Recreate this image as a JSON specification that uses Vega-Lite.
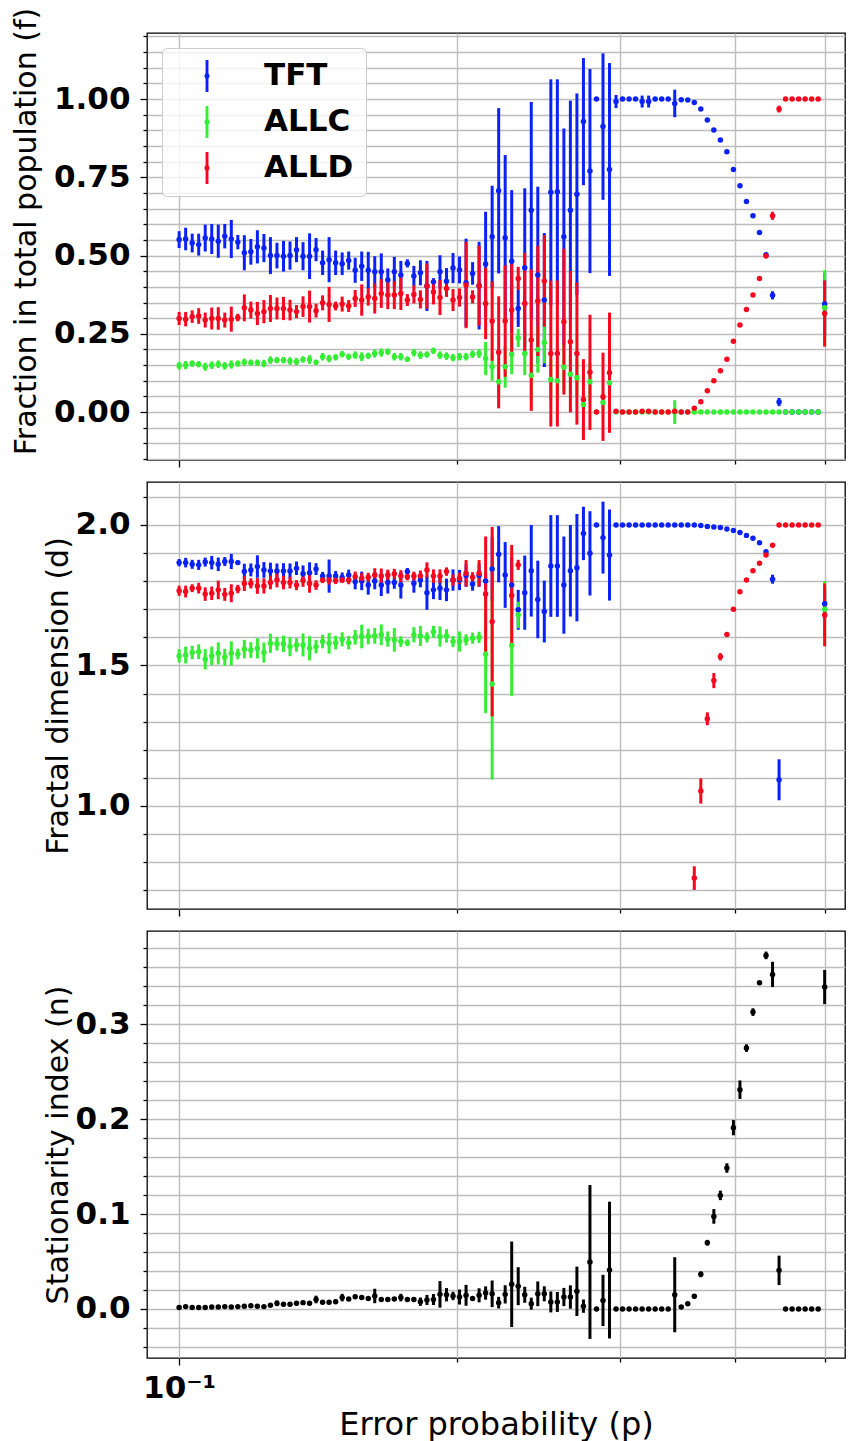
{
"$schema": "https://vega.github.io/schema/vega-lite/v6.json",
"background": "white",
"padding": {"left": 10, "top": 6, "right": 11, "bottom": 3},
"spacing": 12,
"resolve": {"scale": {"color": "independent", "stroke": "independent"}},
"config": {
  "view": {"stroke": "#000000", "strokeWidth": 1.3},
  "axis": {"domain": false, "grid": true, "gridColor": "#bdbdbd", "gridWidth": 1.4, "tickColor": "#000000", "tickWidth": 1.3, "labelFont": "DejaVu Sans", "labelFontWeight": "bold", "labelFontSize": 31, "labelColor": "#000000", "labelPadding": 10, "titleFont": "DejaVu Sans", "titleFontWeight": "normal", "titleFontSize": 30, "titleColor": "#000000"}
},
"datasets": {
"s": [
{"p":0.1,"s":"TFT","f":0.551,"fe":0.027,"d":1.866,"de":0.013},
{"p":0.10164,"s":"TFT","f":0.553,"fe":0.036,"d":1.866,"de":0.017},
{"p":0.10331,"s":"TFT","f":0.540,"fe":0.030,"d":1.860,"de":0.016},
{"p":0.105,"s":"TFT","f":0.535,"fe":0.035,"d":1.858,"de":0.018},
{"p":0.10672,"s":"TFT","f":0.556,"fe":0.043,"d":1.868,"de":0.016},
{"p":0.10847,"s":"TFT","f":0.553,"fe":0.048,"d":1.866,"de":0.024},
{"p":0.11025,"s":"TFT","f":0.546,"fe":0.053,"d":1.860,"de":0.024},
{"p":0.11205,"s":"TFT","f":0.562,"fe":0.039,"d":1.870,"de":0.016},
{"p":0.11389,"s":"TFT","f":0.553,"fe":0.061,"d":1.870,"de":0.027},
{"p":0.11576,"s":"TFT","f":0.543,"fe":0.023,"d":1.866,"de":0.008},
{"p":0.11765,"s":"TFT","f":0.509,"fe":0.056,"d":1.834,"de":0.028},
{"p":0.11958,"s":"TFT","f":0.512,"fe":0.041,"d":1.840,"de":0.023},
{"p":0.12154,"s":"TFT","f":0.528,"fe":0.053,"d":1.852,"de":0.040},
{"p":0.12354,"s":"TFT","f":0.524,"fe":0.045,"d":1.840,"de":0.028},
{"p":0.12556,"s":"TFT","f":0.500,"fe":0.059,"d":1.836,"de":0.030},
{"p":0.12762,"s":"TFT","f":0.500,"fe":0.041,"d":1.836,"de":0.027},
{"p":0.12971,"s":"TFT","f":0.498,"fe":0.049,"d":1.836,"de":0.028},
{"p":0.13184,"s":"TFT","f":0.500,"fe":0.045,"d":1.836,"de":0.027},
{"p":0.134,"s":"TFT","f":0.519,"fe":0.040,"d":1.846,"de":0.024},
{"p":0.13619,"s":"TFT","f":0.498,"fe":0.045,"d":1.826,"de":0.030},
{"p":0.13843,"s":"TFT","f":0.498,"fe":0.073,"d":1.830,"de":0.037},
{"p":0.14069,"s":"TFT","f":0.519,"fe":0.037,"d":1.843,"de":0.021},
{"p":0.143,"s":"TFT","f":0.477,"fe":0.039,"d":1.818,"de":0.015},
{"p":0.14534,"s":"TFT","f":0.487,"fe":0.072,"d":1.818,"de":0.059},
{"p":0.14773,"s":"TFT","f":0.477,"fe":0.039,"d":1.818,"de":0.018},
{"p":0.15015,"s":"TFT","f":0.474,"fe":0.036,"d":1.813,"de":0.018},
{"p":0.15261,"s":"TFT","f":0.484,"fe":0.029,"d":1.822,"de":0.019},
{"p":0.15511,"s":"TFT","f":0.453,"fe":0.040,"d":1.798,"de":0.027},
{"p":0.15765,"s":"TFT","f":0.466,"fe":0.047,"d":1.801,"de":0.033},
{"p":0.16024,"s":"TFT","f":0.453,"fe":0.059,"d":1.786,"de":0.034},
{"p":0.16286,"s":"TFT","f":0.448,"fe":0.050,"d":1.801,"de":0.030},
{"p":0.16553,"s":"TFT","f":0.448,"fe":0.059,"d":1.786,"de":0.039},
{"p":0.16825,"s":"TFT","f":0.422,"fe":0.037,"d":1.795,"de":0.039},
{"p":0.171,"s":"TFT","f":0.448,"fe":0.048,"d":1.795,"de":0.022},
{"p":0.17381,"s":"TFT","f":0.438,"fe":0.045,"d":1.786,"de":0.048},
{"p":0.17666,"s":"TFT","f":0.475,"fe":0.013,"d":1.834,"de":0.013},
{"p":0.17955,"s":"TFT","f":0.435,"fe":0.032,"d":1.793,"de":0.034},
{"p":0.18249,"s":"TFT","f":0.445,"fe":0.040,"d":1.804,"de":0.026},
{"p":0.18549,"s":"TFT","f":0.403,"fe":0.080,"d":1.759,"de":0.061},
{"p":0.18853,"s":"TFT","f":0.416,"fe":0.012,"d":1.769,"de":0.033},
{"p":0.19162,"s":"TFT","f":0.448,"fe":0.053,"d":1.775,"de":0.042},
{"p":0.19476,"s":"TFT","f":0.418,"fe":0.042,"d":1.769,"de":0.040},
{"p":0.19795,"s":"TFT","f":0.460,"fe":0.048,"d":1.804,"de":0.038},
{"p":0.20119,"s":"TFT","f":0.454,"fe":0.043,"d":1.804,"de":0.036},
{"p":0.20449,"s":"TFT","f":0.413,"fe":0.141,"d":1.820,"de":0.040},
{"p":0.20784,"s":"TFT","f":0.443,"fe":0.036,"d":1.790,"de":0.024},
{"p":0.21125,"s":"TFT","f":0.404,"fe":0.140,"d":1.820,"de":0.040},
{"p":0.21471,"s":"TFT","f":0.473,"fe":0.167,"d":1.801,"de":0.030},
{"p":0.21823,"s":"TFT","f":0.560,"fe":0.163,"d":1.843,"de":0.115},
{"p":0.22181,"s":"TFT","f":0.707,"fe":0.264,"d":1.896,"de":0.100},
{"p":0.22544,"s":"TFT","f":0.557,"fe":0.264,"d":1.822,"de":0.117},
{"p":0.22914,"s":"TFT","f":0.482,"fe":0.227,"d":1.786,"de":0.100},
{"p":0.23289,"s":"TFT","f":0.331,"fe":0.059,"d":1.698,"de":0.071},
{"p":0.23671,"s":"TFT","f":0.461,"fe":0.254,"d":1.759,"de":0.132},
{"p":0.24059,"s":"TFT","f":0.645,"fe":0.346,"d":1.837,"de":0.163},
{"p":0.24454,"s":"TFT","f":0.438,"fe":0.282,"d":1.735,"de":0.138},
{"p":0.24854,"s":"TFT","f":0.358,"fe":0.214,"d":1.692,"de":0.110},
{"p":0.25262,"s":"TFT","f":0.702,"fe":0.361,"d":1.854,"de":0.181},
{"p":0.25676,"s":"TFT","f":0.704,"fe":0.359,"d":1.854,"de":0.181},
{"p":0.26097,"s":"TFT","f":0.560,"fe":0.346,"d":1.786,"de":0.173},
{"p":0.26524,"s":"TFT","f":0.645,"fe":0.350,"d":1.837,"de":0.163},
{"p":0.26959,"s":"TFT","f":0.696,"fe":0.322,"d":1.848,"de":0.191},
{"p":0.27401,"s":"TFT","f":0.928,"fe":0.203,"d":1.970,"de":0.095},
{"p":0.2785,"s":"TFT","f":0.770,"fe":0.326,"d":1.899,"de":0.150},
{"p":0.28307,"s":"TFT","f":1.0,"fe":0,"d":2.0,"de":0},
{"p":0.28771,"s":"TFT","f":0.912,"fe":0.234,"d":1.955,"de":0.128},
{"p":0.29242,"s":"TFT","f":0.775,"fe":0.340,"d":1.893,"de":0.162},
{"p":0.29722,"s":"TFT","f":0.992,"fe":0.021,"d":2.0,"de":0},
{"p":0.30209,"s":"TFT","f":1.0,"fe":0,"d":2.0,"de":0},
{"p":0.30704,"s":"TFT","f":1.0,"fe":0,"d":2.0,"de":0},
{"p":0.31207,"s":"TFT","f":1.0,"fe":0,"d":2.0,"de":0},
{"p":0.31719,"s":"TFT","f":0.992,"fe":0.019,"d":2.0,"de":0},
{"p":0.32239,"s":"TFT","f":0.992,"fe":0.019,"d":2.0,"de":0},
{"p":0.32767,"s":"TFT","f":1.0,"fe":0,"d":2.0,"de":0},
{"p":0.33304,"s":"TFT","f":1.0,"fe":0,"d":2.0,"de":0},
{"p":0.3385,"s":"TFT","f":1.0,"fe":0,"d":2.0,"de":0},
{"p":0.34405,"s":"TFT","f":0.986,"fe":0.044,"d":2.0,"de":0},
{"p":0.34969,"s":"TFT","f":0.998,"fe":0,"d":2.0,"de":0},
{"p":0.35542,"s":"TFT","f":0.997,"fe":0,"d":2.0,"de":0},
{"p":0.36125,"s":"TFT","f":0.989,"fe":0,"d":2.0,"de":0},
{"p":0.36716,"s":"TFT","f":0.968,"fe":0,"d":1.998,"de":0},
{"p":0.37318,"s":"TFT","f":0.933,"fe":0,"d":1.995,"de":0},
{"p":0.3793,"s":"TFT","f":0.901,"fe":0,"d":1.993,"de":0},
{"p":0.38552,"s":"TFT","f":0.869,"fe":0,"d":1.991,"de":0},
{"p":0.39184,"s":"TFT","f":0.832,"fe":0,"d":1.986,"de":0},
{"p":0.39826,"s":"TFT","f":0.775,"fe":0,"d":1.980,"de":0},
{"p":0.40479,"s":"TFT","f":0.723,"fe":0,"d":1.973,"de":0},
{"p":0.41142,"s":"TFT","f":0.673,"fe":0,"d":1.963,"de":0},
{"p":0.41816,"s":"TFT","f":0.627,"fe":0,"d":1.953,"de":0},
{"p":0.42502,"s":"TFT","f":0.574,"fe":0,"d":1.937,"de":0},
{"p":0.43199,"s":"TFT","f":0.503,"fe":0,"d":1.905,"de":0},
{"p":0.43907,"s":"TFT","f":0.373,"fe":0.013,"d":1.807,"de":0.016},
{"p":0.44626,"s":"TFT","f":0.032,"fe":0.013,"d":1.093,"de":0.073},
{"p":0.45358,"s":"TFT","f":0,"fe":0},
{"p":0.46101,"s":"TFT","f":0,"fe":0},
{"p":0.46857,"s":"TFT","f":0,"fe":0},
{"p":0.47625,"s":"TFT","f":0,"fe":0},
{"p":0.48405,"s":"TFT","f":0,"fe":0},
{"p":0.49199,"s":"TFT","f":0,"fe":0},
{"p":0.5,"s":"TFT","f":0.345,"fe":0.1,"d":1.720,"de":0.05},
{"p":0.1,"s":"ALLC","f":0.148,"fe":0.012,"d":1.534,"de":0.024},
{"p":0.10164,"s":"ALLC","f":0.150,"fe":0.013,"d":1.537,"de":0.030},
{"p":0.10331,"s":"ALLC","f":0.155,"fe":0.010,"d":1.546,"de":0.024},
{"p":0.105,"s":"ALLC","f":0.153,"fe":0.010,"d":1.549,"de":0.026},
{"p":0.10672,"s":"ALLC","f":0.145,"fe":0.013,"d":1.522,"de":0.036},
{"p":0.10847,"s":"ALLC","f":0.150,"fe":0.012,"d":1.534,"de":0.033},
{"p":0.11025,"s":"ALLC","f":0.153,"fe":0.012,"d":1.543,"de":0.039},
{"p":0.11205,"s":"ALLC","f":0.148,"fe":0.012,"d":1.529,"de":0.030},
{"p":0.11389,"s":"ALLC","f":0.152,"fe":0.013,"d":1.543,"de":0.043},
{"p":0.11576,"s":"ALLC","f":0.155,"fe":0.010,"d":1.541,"de":0.019},
{"p":0.11765,"s":"ALLC","f":0.159,"fe":0.012,"d":1.558,"de":0.033},
{"p":0.11958,"s":"ALLC","f":0.158,"fe":0.010,"d":1.555,"de":0.028},
{"p":0.12154,"s":"ALLC","f":0.158,"fe":0.010,"d":1.561,"de":0.036},
{"p":0.12354,"s":"ALLC","f":0.155,"fe":0.012,"d":1.546,"de":0.036},
{"p":0.12556,"s":"ALLC","f":0.166,"fe":0.012,"d":1.579,"de":0.034},
{"p":0.12762,"s":"ALLC","f":0.166,"fe":0.010,"d":1.577,"de":0.024},
{"p":0.12971,"s":"ALLC","f":0.166,"fe":0.010,"d":1.577,"de":0.029},
{"p":0.13184,"s":"ALLC","f":0.163,"fe":0.012,"d":1.567,"de":0.034},
{"p":0.134,"s":"ALLC","f":0.161,"fe":0.012,"d":1.573,"de":0.024},
{"p":0.13619,"s":"ALLC","f":0.168,"fe":0.010,"d":1.573,"de":0.041},
{"p":0.13843,"s":"ALLC","f":0.168,"fe":0.014,"d":1.561,"de":0.043},
{"p":0.14069,"s":"ALLC","f":0.159,"fe":0.008,"d":1.567,"de":0.024},
{"p":0.143,"s":"ALLC","f":0.177,"fe":0.012,"d":1.585,"de":0.024},
{"p":0.14534,"s":"ALLC","f":0.171,"fe":0.012,"d":1.579,"de":0.037},
{"p":0.14773,"s":"ALLC","f":0.175,"fe":0.010,"d":1.581,"de":0.024},
{"p":0.15015,"s":"ALLC","f":0.185,"fe":0.010,"d":1.593,"de":0.025},
{"p":0.15261,"s":"ALLC","f":0.177,"fe":0.010,"d":1.581,"de":0.024},
{"p":0.15511,"s":"ALLC","f":0.182,"fe":0.012,"d":1.600,"de":0.026},
{"p":0.15765,"s":"ALLC","f":0.177,"fe":0.014,"d":1.603,"de":0.042},
{"p":0.16024,"s":"ALLC","f":0.180,"fe":0.010,"d":1.603,"de":0.028},
{"p":0.16286,"s":"ALLC","f":0.187,"fe":0.013,"d":1.605,"de":0.028},
{"p":0.16553,"s":"ALLC","f":0.190,"fe":0.013,"d":1.609,"de":0.037},
{"p":0.16825,"s":"ALLC","f":0.193,"fe":0.010,"d":1.594,"de":0.027},
{"p":0.171,"s":"ALLC","f":0.177,"fe":0.012,"d":1.591,"de":0.042},
{"p":0.17381,"s":"ALLC","f":0.177,"fe":0.012,"d":1.585,"de":0.019},
{"p":0.17666,"s":"ALLC","f":0.169,"fe":0.008,"d":1.581,"de":0.012},
{"p":0.17955,"s":"ALLC","f":0.190,"fe":0.012,"d":1.609,"de":0.027},
{"p":0.18249,"s":"ALLC","f":0.182,"fe":0.012,"d":1.605,"de":0.036},
{"p":0.18549,"s":"ALLC","f":0.184,"fe":0.010,"d":1.600,"de":0.018},
{"p":0.18853,"s":"ALLC","f":0.196,"fe":0.010,"d":1.620,"de":0.021},
{"p":0.19162,"s":"ALLC","f":0.182,"fe":0.012,"d":1.603,"de":0.036},
{"p":0.19476,"s":"ALLC","f":0.179,"fe":0.012,"d":1.605,"de":0.024},
{"p":0.19795,"s":"ALLC","f":0.174,"fe":0.012,"d":1.585,"de":0.020},
{"p":0.20119,"s":"ALLC","f":0.177,"fe":0.012,"d":1.585,"de":0.036},
{"p":0.20449,"s":"ALLC","f":0.177,"fe":0.012,"d":1.591,"de":0.020},
{"p":0.20784,"s":"ALLC","f":0.185,"fe":0.012,"d":1.597,"de":0.020},
{"p":0.21125,"s":"ALLC","f":0.187,"fe":0.014,"d":1.600,"de":0.020},
{"p":0.21471,"s":"ALLC","f":0.171,"fe":0.053,"d":1.540,"de":0.210},
{"p":0.21823,"s":"ALLC","f":0.145,"fe":0.045,"d":1.434,"de":0.340},
{"p":0.22181,"s":"ALLC","f":0.097,"fe":0.045},
{"p":0.22544,"s":"ALLC","f":0.145,"fe":0.067},
{"p":0.22914,"s":"ALLC","f":0.185,"fe":0.064,"d":1.571,"de":0.180},
{"p":0.23289,"s":"ALLC","f":0.237,"fe":0.029,"d":1.680,"de":0.047},
{"p":0.23671,"s":"ALLC","f":0.187,"fe":0.069},
{"p":0.24059,"s":"ALLC","f":0.118,"fe":0.080},
{"p":0.24454,"s":"ALLC","f":0.200,"fe":0.074},
{"p":0.24854,"s":"ALLC","f":0.222,"fe":0.066},
{"p":0.25262,"s":"ALLC","f":0.104,"fe":0.064},
{"p":0.25676,"s":"ALLC","f":0.100,"fe":0.060},
{"p":0.26097,"s":"ALLC","f":0.143,"fe":0.074},
{"p":0.26524,"s":"ALLC","f":0.121,"fe":0.060},
{"p":0.26959,"s":"ALLC","f":0.110,"fe":0.060},
{"p":0.27401,"s":"ALLC","f":0.024,"fe":0.019},
{"p":0.2785,"s":"ALLC","f":0.097,"fe":0.060},
{"p":0.28307,"s":"ALLC","f":0,"fe":0},
{"p":0.28771,"s":"ALLC","f":0.031,"fe":0.026},
{"p":0.29242,"s":"ALLC","f":0.094,"fe":0.037},
{"p":0.29722,"s":"ALLC","f":0,"fe":0},
{"p":0.30209,"s":"ALLC","f":0,"fe":0},
{"p":0.30704,"s":"ALLC","f":0,"fe":0},
{"p":0.31207,"s":"ALLC","f":0,"fe":0},
{"p":0.31719,"s":"ALLC","f":0,"fe":0},
{"p":0.32239,"s":"ALLC","f":0,"fe":0},
{"p":0.32767,"s":"ALLC","f":0,"fe":0},
{"p":0.33304,"s":"ALLC","f":0,"fe":0},
{"p":0.3385,"s":"ALLC","f":0,"fe":0},
{"p":0.34405,"s":"ALLC","f":0,"fe":0.038},
{"p":0.34969,"s":"ALLC","f":0,"fe":0},
{"p":0.35542,"s":"ALLC","f":0,"fe":0},
{"p":0.36125,"s":"ALLC","f":0,"fe":0},
{"p":0.36716,"s":"ALLC","f":0,"fe":0},
{"p":0.37318,"s":"ALLC","f":0,"fe":0},
{"p":0.3793,"s":"ALLC","f":0,"fe":0},
{"p":0.38552,"s":"ALLC","f":0,"fe":0},
{"p":0.39184,"s":"ALLC","f":0,"fe":0},
{"p":0.39826,"s":"ALLC","f":0,"fe":0},
{"p":0.40479,"s":"ALLC","f":0,"fe":0},
{"p":0.41142,"s":"ALLC","f":0,"fe":0},
{"p":0.41816,"s":"ALLC","f":0,"fe":0},
{"p":0.42502,"s":"ALLC","f":0,"fe":0},
{"p":0.43199,"s":"ALLC","f":0,"fe":0},
{"p":0.43907,"s":"ALLC","f":0,"fe":0},
{"p":0.44626,"s":"ALLC","f":0,"fe":0},
{"p":0.45358,"s":"ALLC","f":0,"fe":0},
{"p":0.46101,"s":"ALLC","f":0,"fe":0},
{"p":0.46857,"s":"ALLC","f":0,"fe":0},
{"p":0.47625,"s":"ALLC","f":0,"fe":0},
{"p":0.48405,"s":"ALLC","f":0,"fe":0},
{"p":0.49199,"s":"ALLC","f":0,"fe":0},
{"p":0.5,"s":"ALLC","f":0.333,"fe":0.12,"d":1.700,"de":0.10},
{"p":0.1,"s":"ALLD","f":0.299,"fe":0.021,"d":1.766,"de":0.018},
{"p":0.10164,"s":"ALLD","f":0.297,"fe":0.023,"d":1.763,"de":0.021},
{"p":0.10331,"s":"ALLD","f":0.305,"fe":0.020,"d":1.775,"de":0.014},
{"p":0.105,"s":"ALLD","f":0.307,"fe":0.025,"d":1.775,"de":0.019},
{"p":0.10672,"s":"ALLD","f":0.294,"fe":0.024,"d":1.754,"de":0.024},
{"p":0.10847,"s":"ALLD","f":0.299,"fe":0.035,"d":1.757,"de":0.024},
{"p":0.11025,"s":"ALLD","f":0.299,"fe":0.036,"d":1.769,"de":0.033},
{"p":0.11205,"s":"ALLD","f":0.294,"fe":0.024,"d":1.753,"de":0.023},
{"p":0.11389,"s":"ALLD","f":0.297,"fe":0.040,"d":1.757,"de":0.032},
{"p":0.11576,"s":"ALLD","f":0.302,"fe":0.012,"d":1.772,"de":0.015},
{"p":0.11765,"s":"ALLD","f":0.333,"fe":0.043,"d":1.792,"de":0.027},
{"p":0.11958,"s":"ALLD","f":0.326,"fe":0.027,"d":1.792,"de":0.018},
{"p":0.12154,"s":"ALLD","f":0.315,"fe":0.037,"d":1.783,"de":0.028},
{"p":0.12354,"s":"ALLD","f":0.321,"fe":0.037,"d":1.783,"de":0.027},
{"p":0.12556,"s":"ALLD","f":0.331,"fe":0.043,"d":1.795,"de":0.024},
{"p":0.12762,"s":"ALLD","f":0.331,"fe":0.035,"d":1.804,"de":0.026},
{"p":0.12971,"s":"ALLD","f":0.331,"fe":0.037,"d":1.795,"de":0.024},
{"p":0.13184,"s":"ALLD","f":0.326,"fe":0.033,"d":1.795,"de":0.021},
{"p":0.134,"s":"ALLD","f":0.321,"fe":0.021,"d":1.786,"de":0.018},
{"p":0.13619,"s":"ALLD","f":0.337,"fe":0.033,"d":1.802,"de":0.022},
{"p":0.13843,"s":"ALLD","f":0.337,"fe":0.051,"d":1.792,"de":0.033},
{"p":0.14069,"s":"ALLD","f":0.324,"fe":0.022,"d":1.786,"de":0.017},
{"p":0.143,"s":"ALLD","f":0.349,"fe":0.024,"d":1.804,"de":0.011},
{"p":0.14534,"s":"ALLD","f":0.344,"fe":0.056,"d":1.804,"de":0.016},
{"p":0.14773,"s":"ALLD","f":0.339,"fe":0.014,"d":1.802,"de":0.012},
{"p":0.15015,"s":"ALLD","f":0.345,"fe":0.024,"d":1.804,"de":0.010},
{"p":0.15261,"s":"ALLD","f":0.339,"fe":0.019,"d":1.804,"de":0.015},
{"p":0.15511,"s":"ALLD","f":0.363,"fe":0.027,"d":1.816,"de":0.018},
{"p":0.15765,"s":"ALLD","f":0.358,"fe":0.050,"d":1.810,"de":0.018},
{"p":0.16024,"s":"ALLD","f":0.368,"fe":0.028,"d":1.814,"de":0.016},
{"p":0.16286,"s":"ALLD","f":0.363,"fe":0.048,"d":1.822,"de":0.024},
{"p":0.16553,"s":"ALLD","f":0.379,"fe":0.046,"d":1.818,"de":0.027},
{"p":0.16825,"s":"ALLD","f":0.374,"fe":0.045,"d":1.822,"de":0.019},
{"p":0.171,"s":"ALLD","f":0.374,"fe":0.045,"d":1.826,"de":0.018},
{"p":0.17381,"s":"ALLD","f":0.379,"fe":0.053,"d":1.818,"de":0.021},
{"p":0.17666,"s":"ALLD","f":0.358,"fe":0.019,"d":1.816,"de":0.013},
{"p":0.17955,"s":"ALLD","f":0.376,"fe":0.029,"d":1.818,"de":0.016},
{"p":0.18249,"s":"ALLD","f":0.360,"fe":0.029,"d":1.818,"de":0.020},
{"p":0.18549,"s":"ALLD","f":0.403,"fe":0.072,"d":1.840,"de":0.027},
{"p":0.18853,"s":"ALLD","f":0.384,"fe":0.040,"d":1.818,"de":0.024},
{"p":0.19162,"s":"ALLD","f":0.366,"fe":0.056,"d":1.818,"de":0.024},
{"p":0.19476,"s":"ALLD","f":0.395,"fe":0.027,"d":1.834,"de":0.015},
{"p":0.19795,"s":"ALLD","f":0.358,"fe":0.035,"d":1.804,"de":0.020},
{"p":0.20119,"s":"ALLD","f":0.366,"fe":0.029,"d":1.810,"de":0.020},
{"p":0.20449,"s":"ALLD","f":0.406,"fe":0.138,"d":1.828,"de":0.047},
{"p":0.20784,"s":"ALLD","f":0.368,"fe":0.021,"d":1.814,"de":0.018},
{"p":0.21125,"s":"ALLD","f":0.404,"fe":0.128,"d":1.828,"de":0.047},
{"p":0.21471,"s":"ALLD","f":0.347,"fe":0.114,"d":1.754,"de":0.205},
{"p":0.21823,"s":"ALLD","f":0.291,"fe":0.127,"d":1.656,"de":0.337},
{"p":0.22181,"s":"ALLD","f":0.191,"fe":0.179},
{"p":0.22544,"s":"ALLD","f":0.291,"fe":0.178},
{"p":0.22914,"s":"ALLD","f":0.326,"fe":0.149,"d":1.749,"de":0.180},
{"p":0.23289,"s":"ALLD","f":0.427,"fe":0.037,"d":1.858,"de":0.018},
{"p":0.23671,"s":"ALLD","f":0.347,"fe":0.162},
{"p":0.24059,"s":"ALLD","f":0.230,"fe":0.226},
{"p":0.24454,"s":"ALLD","f":0.355,"fe":0.176},
{"p":0.24854,"s":"ALLD","f":0.419,"fe":0.146},
{"p":0.25262,"s":"ALLD","f":0.187,"fe":0.233},
{"p":0.25676,"s":"ALLD","f":0.187,"fe":0.233},
{"p":0.26097,"s":"ALLD","f":0.289,"fe":0.233},
{"p":0.26524,"s":"ALLD","f":0.225,"fe":0.226},
{"p":0.26959,"s":"ALLD","f":0.187,"fe":0.227},
{"p":0.27401,"s":"ALLD","f":0.040,"fe":0.129},
{"p":0.2785,"s":"ALLD","f":0.127,"fe":0.184},
{"p":0.28307,"s":"ALLD","f":0,"fe":0},
{"p":0.28771,"s":"ALLD","f":0.049,"fe":0.141},
{"p":0.29242,"s":"ALLD","f":0.126,"fe":0.192},
{"p":0.29722,"s":"ALLD","f":0.003,"fe":0},
{"p":0.30209,"s":"ALLD","f":0,"fe":0},
{"p":0.30704,"s":"ALLD","f":0,"fe":0},
{"p":0.31207,"s":"ALLD","f":0,"fe":0},
{"p":0.31719,"s":"ALLD","f":0.003,"fe":0.005},
{"p":0.32239,"s":"ALLD","f":0.003,"fe":0.005},
{"p":0.32767,"s":"ALLD","f":0,"fe":0},
{"p":0.33304,"s":"ALLD","f":0,"fe":0},
{"p":0.3385,"s":"ALLD","f":0,"fe":0},
{"p":0.34405,"s":"ALLD","f":0.003,"fe":0},
{"p":0.34969,"s":"ALLD","f":0,"fe":0},
{"p":0.35542,"s":"ALLD","f":0,"fe":0},
{"p":0.36125,"s":"ALLD","f":0.012,"fe":0,"d":0.743,"de":0.042},
{"p":0.36716,"s":"ALLD","f":0.033,"fe":0,"d":1.053,"de":0.045},
{"p":0.37318,"s":"ALLD","f":0.068,"fe":0,"d":1.310,"de":0.023},
{"p":0.3793,"s":"ALLD","f":0.100,"fe":0,"d":1.446,"de":0.027},
{"p":0.38552,"s":"ALLD","f":0.132,"fe":0,"d":1.531,"de":0.013},
{"p":0.39184,"s":"ALLD","f":0.169,"fe":0,"d":1.610,"de":0},
{"p":0.39826,"s":"ALLD","f":0.226,"fe":0,"d":1.700,"de":0},
{"p":0.40479,"s":"ALLD","f":0.278,"fe":0,"d":1.762,"de":0},
{"p":0.41142,"s":"ALLD","f":0.328,"fe":0,"d":1.804,"de":0},
{"p":0.41816,"s":"ALLD","f":0.374,"fe":0,"d":1.837,"de":0},
{"p":0.42502,"s":"ALLD","f":0.427,"fe":0,"d":1.864,"de":0},
{"p":0.43199,"s":"ALLD","f":0.499,"fe":0,"d":1.893,"de":0},
{"p":0.43907,"s":"ALLD","f":0.627,"fe":0.013,"d":1.928,"de":0},
{"p":0.44626,"s":"ALLD","f":0.968,"fe":0.011,"d":2.0,"de":0},
{"p":0.45358,"s":"ALLD","f":1.0,"fe":0,"d":2.0,"de":0},
{"p":0.46101,"s":"ALLD","f":1.0,"fe":0,"d":2.0,"de":0},
{"p":0.46857,"s":"ALLD","f":1.0,"fe":0,"d":2.0,"de":0},
{"p":0.47625,"s":"ALLD","f":1.0,"fe":0,"d":2.0,"de":0},
{"p":0.48405,"s":"ALLD","f":1.0,"fe":0,"d":2.0,"de":0},
{"p":0.49199,"s":"ALLD","f":1.0,"fe":0,"d":2.0,"de":0},
{"p":0.5,"s":"ALLD","f":0.315,"fe":0.106,"d":1.680,"de":0.112}
],
"n": [
{"p":0.1,"n":0.0015,"ne":0},
{"p":0.10164,"n":0.0025,"ne":0.001},
{"p":0.10331,"n":0.0015,"ne":0},
{"p":0.105,"n":0.0015,"ne":0},
{"p":0.10672,"n":0.0015,"ne":0},
{"p":0.10847,"n":0.002,"ne":0},
{"p":0.11025,"n":0.002,"ne":0},
{"p":0.11205,"n":0.0025,"ne":0.001},
{"p":0.11389,"n":0.002,"ne":0},
{"p":0.11576,"n":0.0025,"ne":0},
{"p":0.11765,"n":0.003,"ne":0.001},
{"p":0.11958,"n":0.0035,"ne":0},
{"p":0.12154,"n":0.003,"ne":0},
{"p":0.12354,"n":0.0025,"ne":0},
{"p":0.12556,"n":0.004,"ne":0.001},
{"p":0.12762,"n":0.006,"ne":0.003},
{"p":0.12971,"n":0.005,"ne":0.002},
{"p":0.13184,"n":0.005,"ne":0.002},
{"p":0.134,"n":0.006,"ne":0.002},
{"p":0.13619,"n":0.0067,"ne":0.002},
{"p":0.13843,"n":0.006,"ne":0.002},
{"p":0.14069,"n":0.010,"ne":0.004},
{"p":0.143,"n":0.007,"ne":0.002},
{"p":0.14534,"n":0.007,"ne":0.002},
{"p":0.14773,"n":0.0077,"ne":0.002},
{"p":0.15015,"n":0.012,"ne":0.004},
{"p":0.15261,"n":0.0105,"ne":0.002},
{"p":0.15511,"n":0.013,"ne":0.002},
{"p":0.15765,"n":0.012,"ne":0.002},
{"p":0.16024,"n":0.011,"ne":0.002},
{"p":0.16286,"n":0.0137,"ne":0.0076},
{"p":0.16553,"n":0.010,"ne":0.002},
{"p":0.16825,"n":0.010,"ne":0.002},
{"p":0.171,"n":0.0105,"ne":0.002},
{"p":0.17381,"n":0.012,"ne":0.004},
{"p":0.17666,"n":0.010,"ne":0.002},
{"p":0.17955,"n":0.010,"ne":0.002},
{"p":0.18249,"n":0.0077,"ne":0.0044},
{"p":0.18549,"n":0.0095,"ne":0.0053},
{"p":0.18853,"n":0.010,"ne":0.0058},
{"p":0.19162,"n":0.0154,"ne":0.014},
{"p":0.19476,"n":0.015,"ne":0.007},
{"p":0.19795,"n":0.0137,"ne":0.0044},
{"p":0.20119,"n":0.0126,"ne":0.0079},
{"p":0.20449,"n":0.0144,"ne":0.011},
{"p":0.20784,"n":0.011,"ne":0.002},
{"p":0.21125,"n":0.0144,"ne":0.0074},
{"p":0.21471,"n":0.0168,"ne":0.007},
{"p":0.21823,"n":0.016,"ne":0.014},
{"p":0.22181,"n":0.0067,"ne":0.0061},
{"p":0.22544,"n":0.0154,"ne":0.0096},
{"p":0.22914,"n":0.026,"ne":0.045},
{"p":0.23289,"n":0.024,"ne":0.020},
{"p":0.23671,"n":0.015,"ne":0.0084},
{"p":0.24059,"n":0.0056,"ne":0.0063},
{"p":0.24454,"n":0.016,"ne":0.013},
{"p":0.24854,"n":0.016,"ne":0.0079},
{"p":0.25262,"n":0.0074,"ne":0.011},
{"p":0.25676,"n":0.0074,"ne":0.0105},
{"p":0.26097,"n":0.0126,"ne":0.0096},
{"p":0.26524,"n":0.0126,"ne":0.0123},
{"p":0.26959,"n":0.0186,"ne":0.026},
{"p":0.27401,"n":0.003,"ne":0.007},
{"p":0.2785,"n":0.0495,"ne":0.081},
{"p":0.28307,"n":0,"ne":0},
{"p":0.28771,"n":0.009,"ne":0.027},
{"p":0.29242,"n":0.041,"ne":0.072},
{"p":0.29722,"n":0,"ne":0},
{"p":0.30209,"n":0,"ne":0},
{"p":0.30704,"n":0,"ne":0},
{"p":0.31207,"n":0,"ne":0},
{"p":0.31719,"n":0,"ne":0},
{"p":0.32239,"n":0,"ne":0},
{"p":0.32767,"n":0,"ne":0},
{"p":0.33304,"n":0,"ne":0},
{"p":0.3385,"n":0,"ne":0},
{"p":0.34405,"n":0.015,"ne":0.0395},
{"p":0.34969,"n":0.002,"ne":0},
{"p":0.35542,"n":0.0056,"ne":0},
{"p":0.36125,"n":0.0133,"ne":0.002},
{"p":0.36716,"n":0.0365,"ne":0.003},
{"p":0.37318,"n":0.0698,"ne":0.003},
{"p":0.3793,"n":0.0975,"ne":0.0077},
{"p":0.38552,"n":0.1196,"ne":0.005},
{"p":0.39184,"n":0.1484,"ne":0.005},
{"p":0.39826,"n":0.1909,"ne":0.008},
{"p":0.40479,"n":0.2309,"ne":0.0097},
{"p":0.41142,"n":0.2747,"ne":0.004},
{"p":0.41816,"n":0.3126,"ne":0.004},
{"p":0.42502,"n":0.3435,"ne":0.002},
{"p":0.43199,"n":0.3723,"ne":0.004},
{"p":0.43907,"n":0.3523,"ne":0.0133},
{"p":0.44626,"n":0.0407,"ne":0.0155},
{"p":0.45358,"n":0,"ne":0},
{"p":0.46101,"n":0,"ne":0},
{"p":0.46857,"n":0,"ne":0},
{"p":0.47625,"n":0,"ne":0},
{"p":0.48405,"n":0,"ne":0},
{"p":0.49199,"n":0,"ne":0},
{"p":0.5,"n":0.339,"ne":0.018}
]
},
"vconcat": [
{
  "width": 698, "height": 427,
  "data": {"name": "s"},
  "encoding": {
    "x": {"field": "p", "type": "quantitative", "scale": {"type": "log", "domain": [0.0923, 0.526], "nice": false},
          "axis": {"values": [0.1, 0.2, 0.3, 0.4, 0.5], "labels": false, "title": null, "tickSize": {"condition": {"test": "datum.value == 0.1", "value": 7}, "value": 4}}},
    "y": {"field": "f", "type": "quantitative", "scale": {"domain": [-0.153, 1.211], "nice": false, "zero": false},
          "axis": {"title": "Fraction in total population (f)", "titlePadding": 12, "titleY": 198,
                   "values": [-0.15,-0.1,-0.05,0,0.05,0.1,0.15,0.2,0.25,0.3,0.35,0.4,0.45,0.5,0.55,0.6,0.65,0.7,0.75,0.8,0.85,0.9,0.95,1,1.05,1.1,1.15,1.2],
                   "labelExpr": "abs(datum.value*4 - round(datum.value*4)) < 1e-6 ? format(datum.value, '.2f') : ''",
                   "tickSize": {"condition": {"test": "abs(datum.value*4 - round(datum.value*4)) < 1e-6", "value": 7}, "value": 4}}}
  },
  "layer": [
    {"mark": {"type": "errorbar", "thickness": 3},
     "encoding": {"yError": {"field": "fe"},
                  "stroke": {"field": "s", "type": "nominal", "scale": {"domain": ["ALLD", "ALLC", "TFT"], "range": ["#f8061e", "#33ee33", "#0a22f8"]}, "legend": null}}},
    {"mark": {"type": "point", "filled": true, "size": 30, "opacity": 1},
     "encoding": {"color": {"field": "s", "type": "nominal", "scale": {"domain": ["TFT", "ALLC", "ALLD"], "range": ["#0a22f8", "#33ee33", "#f8061e"]},
                  "legend": {"orient": "top-left", "offset": 15, "title": null, "zindex": 2,
                             "symbolType": "M-0.09,-1L0.09,-1L0.09,-0.17L0.17,0L0.09,0.17L0.09,1L-0.09,1L-0.09,0.17L-0.17,0L-0.09,-0.17Z",
                             "symbolSize": 1024, "symbolStrokeWidth": 0, "symbolOffset": 17,
                             "labelFont": "DejaVu Sans", "labelFontWeight": "bold", "labelFontSize": 31, "labelColor": "#000000", "labelOffset": 41,
                             "rowPadding": 14, "padding": 12, "fillColor": "rgba(255,255,255,0.8)", "strokeColor": "#cccccc", "cornerRadius": 5}}}}
  ]
},
{
  "width": 698, "height": 427,
  "data": {"name": "s"},
  "transform": [{"filter": "isValid(datum.d)"}],
  "encoding": {
    "x": {"field": "p", "type": "quantitative", "scale": {"type": "log", "domain": [0.0923, 0.526], "nice": false},
          "axis": {"values": [0.1, 0.2, 0.3, 0.4, 0.5], "labels": false, "title": null, "tickSize": {"condition": {"test": "datum.value == 0.1", "value": 7}, "value": 4}}},
    "y": {"field": "d", "type": "quantitative", "scale": {"domain": [0.633, 2.153], "nice": false, "zero": false},
          "axis": {"title": "Fractal dimension (d)", "titlePadding": 2,
                   "values": [0.7,0.8,0.9,1,1.1,1.2,1.3,1.4,1.5,1.6,1.7,1.8,1.9,2,2.1],
                   "labelExpr": "abs(datum.value*2 - round(datum.value*2)) < 1e-6 ? format(datum.value, '.1f') : ''",
                   "tickSize": {"condition": {"test": "abs(datum.value*2 - round(datum.value*2)) < 1e-6", "value": 7}, "value": 4}}},
    "color": {"field": "s", "type": "nominal", "scale": {"domain": ["TFT", "ALLC", "ALLD"], "range": ["#0a22f8", "#33ee33", "#f8061e"]}, "legend": null}
  },
  "layer": [
    {"mark": {"type": "errorbar", "thickness": 3}, "encoding": {"yError": {"field": "de"}}},
    {"mark": {"type": "point", "filled": true, "size": 30, "opacity": 1}}
  ]
},
{
  "width": 698, "height": 427,
  "data": {"name": "n"},
  "encoding": {
    "x": {"field": "p", "type": "quantitative", "scale": {"type": "log", "domain": [0.0923, 0.526], "nice": false},
          "axis": {"values": [0.1, 0.2, 0.3, 0.4, 0.5], "labelExpr": "datum.value == 0.1 ? '10⁻¹' : ''", "title": "Error probability (p)", "titleFontSize": 32, "titlePadding": 6, "labelPadding": 8, "labelFlush": false, "labelOverlap": false,
                   "tickSize": {"condition": {"test": "datum.value == 0.1", "value": 7}, "value": 4}}},
    "y": {"field": "n", "type": "quantitative", "scale": {"domain": [-0.0516, 0.398], "nice": false, "zero": false},
          "axis": {"title": "Stationarity index (n)", "titlePadding": 2,
                   "values": [-0.04,-0.02,0,0.02,0.04,0.06,0.08,0.1,0.12,0.14,0.16,0.18,0.2,0.22,0.24,0.26,0.28,0.3,0.32,0.34,0.36,0.38],
                   "labelExpr": "abs(datum.value*10 - round(datum.value*10)) < 1e-6 ? format(datum.value, '.1f') : ''",
                   "tickSize": {"condition": {"test": "abs(datum.value*10 - round(datum.value*10)) < 1e-6", "value": 7}, "value": 4}}}
  },
  "layer": [
    {"mark": {"type": "errorbar", "thickness": 3, "color": "#000000"}, "encoding": {"yError": {"field": "ne"}}},
    {"mark": {"type": "point", "filled": true, "size": 30, "opacity": 1, "color": "#000000"}}
  ]
}
]
}
